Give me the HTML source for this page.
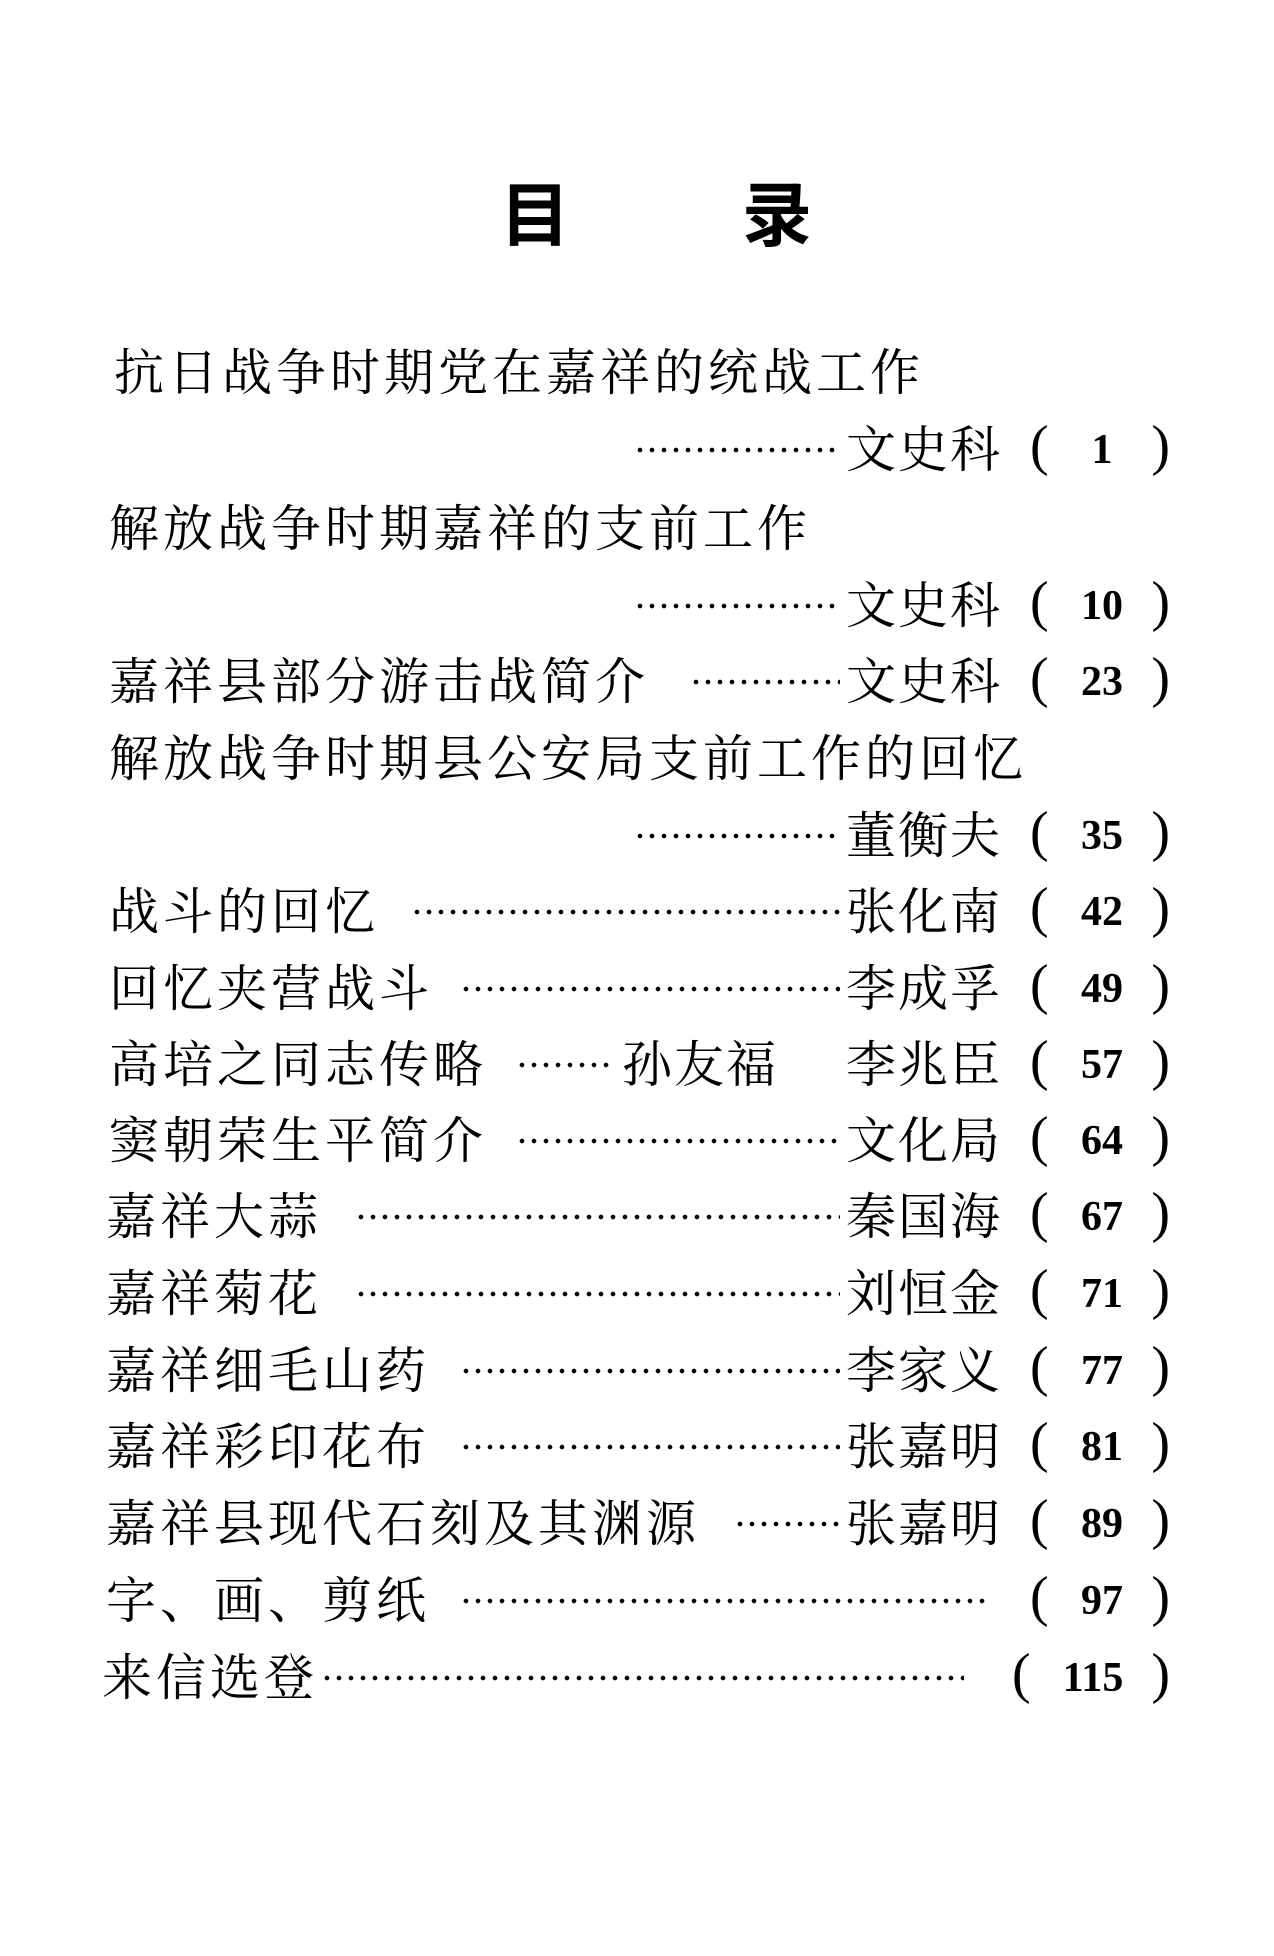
<!DOCTYPE html>
<html><head><meta charset="utf-8"><style>
body{margin:0;width:1274px;height:1956px;background:#fff;position:relative;overflow:hidden;color:#000}
.t{position:absolute;font-family:"Liberation Serif","Noto Serif CJK SC",serif;font-size:50px;line-height:60px;letter-spacing:4px;white-space:nowrap}
.a{letter-spacing:2px}
.d{position:absolute;height:8px;background-image:radial-gradient(circle,#000 2px,transparent 2.6px);background-size:12px 8px;background-repeat:repeat-x}
.p{position:absolute;width:140px;height:60px;font-family:"Liberation Serif","Noto Serif CJK SC",serif;white-space:nowrap}
.p .l,.p .r{position:absolute;top:-4px;font-size:56px;line-height:60px}
.p .l{left:0}.p .r{right:0}.p .n{position:absolute;left:4px;right:0;text-align:center;font-weight:bold;font-size:42px;line-height:60px}
.h{position:absolute;top:176px;font-family:"Liberation Sans","Noto Sans CJK SC",sans-serif;font-weight:bold;font-size:70px;line-height:80px}
</style></head><body>
<div class="h" style="left:500px">目</div><div class="h" style="left:742px">录</div>

<div class="t" style="left:114px;top:343px">抗日战争时期党在嘉祥的统战工作</div>
<div class="d" style="left:634px;width:206px;top:446px"></div><div class="t a" style="left:846px;top:420px">文史科</div>
<div class="p" style="left:1030px;top:420px"><span class="l">(</span><span class="n">1</span><span class="r">)</span></div>

<div class="t" style="left:109px;top:499px">解放战争时期嘉祥的支前工作</div>
<div class="d" style="left:634px;width:206px;top:602px"></div><div class="t a" style="left:846px;top:576px">文史科</div>
<div class="p" style="left:1030px;top:576px"><span class="l">(</span><span class="n">10</span><span class="r">)</span></div>

<div class="t" style="left:109px;top:652px">嘉祥县部分游击战简介</div>
<div class="d" style="left:690px;width:150px;top:678px"></div><div class="t a" style="left:846px;top:652px">文史科</div>
<div class="p" style="left:1030px;top:652px"><span class="l">(</span><span class="n">23</span><span class="r">)</span></div>

<div class="t" style="left:109px;top:729px">解放战争时期县公安局支前工作的回忆</div>
<div class="d" style="left:634px;width:206px;top:832px"></div><div class="t a" style="left:846px;top:806px">董衡夫</div>
<div class="p" style="left:1030px;top:806px"><span class="l">(</span><span class="n">35</span><span class="r">)</span></div>

<div class="t" style="left:109px;top:882px">战斗的回忆</div>
<div class="d" style="left:411px;width:429px;top:908px"></div><div class="t a" style="left:846px;top:882px">张化南</div>
<div class="p" style="left:1030px;top:882px"><span class="l">(</span><span class="n">42</span><span class="r">)</span></div>

<div class="t" style="left:109px;top:959px">回忆夹营战斗</div>
<div class="d" style="left:460px;width:380px;top:985px"></div><div class="t a" style="left:846px;top:959px">李成孚</div>
<div class="p" style="left:1030px;top:959px"><span class="l">(</span><span class="n">49</span><span class="r">)</span></div>

<div class="t" style="left:109px;top:1035px">高培之同志传略</div>
<div class="d" style="left:516px;width:94px;top:1061px"></div><div class="t a" style="left:622px;top:1035px">孙友福</div><div class="t a" style="left:846px;top:1035px">李兆臣</div>
<div class="p" style="left:1030px;top:1035px"><span class="l">(</span><span class="n">57</span><span class="r">)</span></div>

<div class="t" style="left:109px;top:1111px">窦朝荣生平简介</div>
<div class="d" style="left:516px;width:324px;top:1137px"></div><div class="t a" style="left:846px;top:1111px">文化局</div>
<div class="p" style="left:1030px;top:1111px"><span class="l">(</span><span class="n">64</span><span class="r">)</span></div>

<div class="t" style="left:106px;top:1187px">嘉祥大蒜</div>
<div class="d" style="left:355px;width:485px;top:1213px"></div><div class="t a" style="left:846px;top:1187px">秦国海</div>
<div class="p" style="left:1030px;top:1187px"><span class="l">(</span><span class="n">67</span><span class="r">)</span></div>

<div class="t" style="left:106px;top:1264px">嘉祥菊花</div>
<div class="d" style="left:355px;width:485px;top:1290px"></div><div class="t a" style="left:846px;top:1264px">刘恒金</div>
<div class="p" style="left:1030px;top:1264px"><span class="l">(</span><span class="n">71</span><span class="r">)</span></div>

<div class="t" style="left:106px;top:1341px">嘉祥细毛山药</div>
<div class="d" style="left:460px;width:380px;top:1367px"></div><div class="t a" style="left:846px;top:1341px">李家义</div>
<div class="p" style="left:1030px;top:1341px"><span class="l">(</span><span class="n">77</span><span class="r">)</span></div>

<div class="t" style="left:106px;top:1417px">嘉祥彩印花布</div>
<div class="d" style="left:460px;width:380px;top:1443px"></div><div class="t a" style="left:846px;top:1417px">张嘉明</div>
<div class="p" style="left:1030px;top:1417px"><span class="l">(</span><span class="n">81</span><span class="r">)</span></div>

<div class="t" style="left:106px;top:1494px">嘉祥县现代石刻及其渊源</div>
<div class="d" style="left:734px;width:106px;top:1520px"></div><div class="t a" style="left:846px;top:1494px">张嘉明</div>
<div class="p" style="left:1030px;top:1494px"><span class="l">(</span><span class="n">89</span><span class="r">)</span></div>

<div class="t" style="left:106px;top:1571px">字、画、剪纸</div>
<div class="d" style="left:460px;width:529px;top:1597px"></div>
<div class="p" style="left:1030px;top:1571px"><span class="l">(</span><span class="n">97</span><span class="r">)</span></div>

<div class="t" style="left:102px;top:1648px">来信选登</div>
<div class="d" style="left:321px;width:643px;top:1674px"></div>
<div class="p" style="left:1012px;top:1648px;width:158px"><span class="l">(</span><span class="n">115</span><span class="r">)</span></div>
</body></html>
